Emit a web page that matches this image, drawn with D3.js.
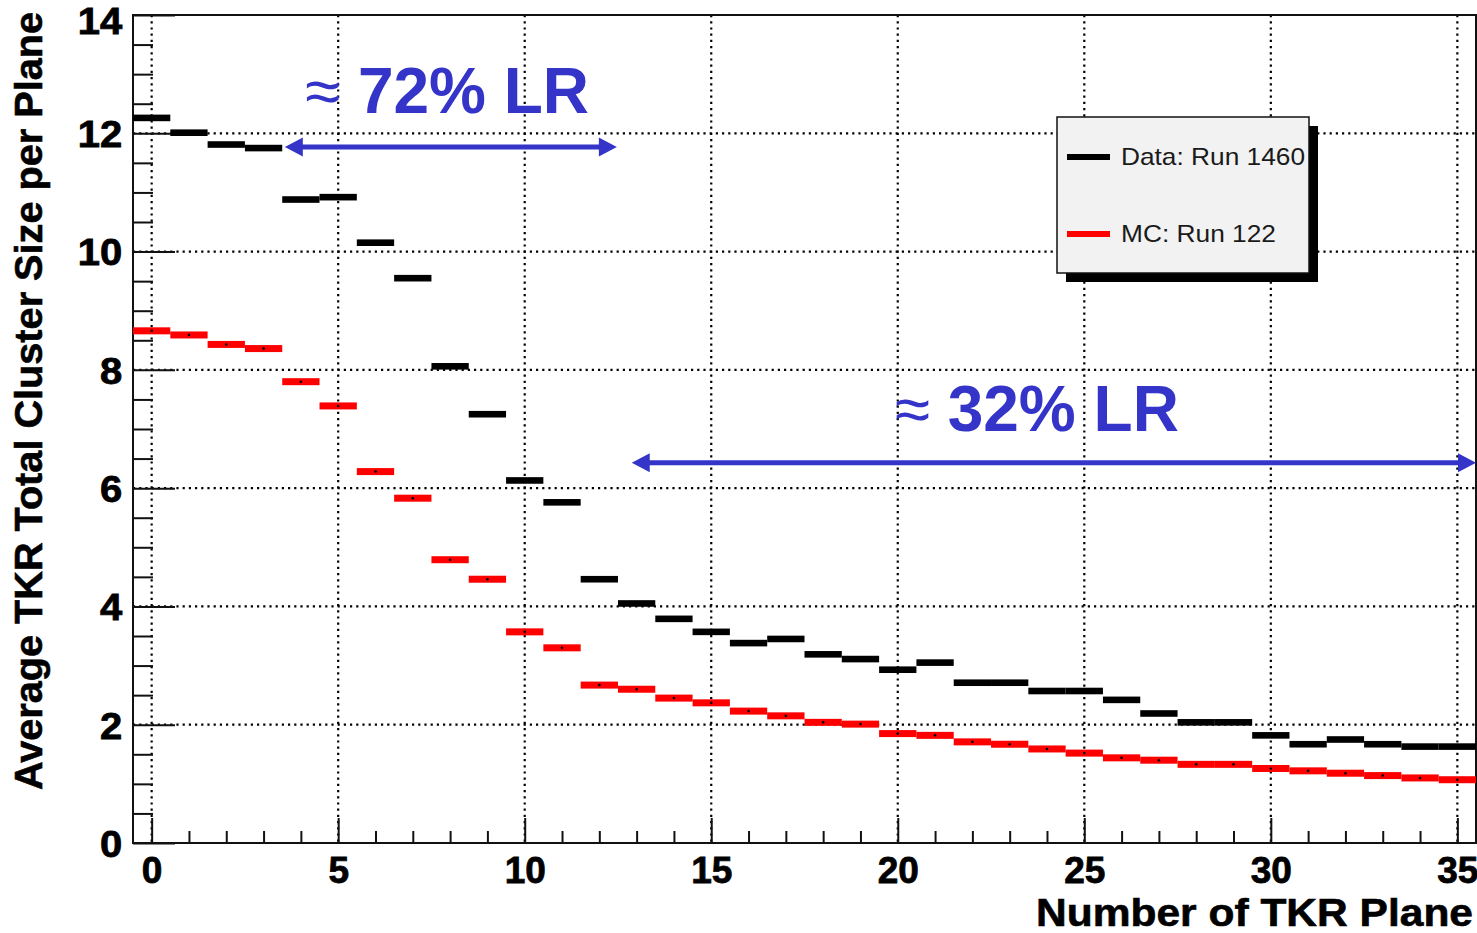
<!DOCTYPE html>
<html>
<head>
<meta charset="utf-8">
<script src="https://cdn.jsdelivr.net/npm/d3@7/dist/d3.min.js"></script>
<style>
  html, body { margin: 0; padding: 0; background: #fff; }
  svg { display: block; }
  text { font-family: "Liberation Sans", Arial, Helvetica, sans-serif; }
</style>
</head>
<body>
<svg id="chart" width="1477" height="933"></svg>
<script>
// ---- data ----
const planes = [0,1,2,3,4,5,6,7,8,9,10,11,12,13,14,15,16,17,18,19,20,21,22,23,24,25,26,27,28,29,30,31,32,33,34,35];
const dataRun1460 = [12.26,12.01,11.81,11.75,10.88,10.92,10.15,9.55,8.06,7.25,6.13,5.76,4.46,4.05,3.79,3.57,3.38,3.45,3.19,3.11,2.93,3.05,2.71,2.71,2.57,2.57,2.42,2.19,2.04,2.04,1.82,1.67,1.75,1.67,1.63,1.63];
const mcRun122 = [8.66,8.59,8.43,8.36,7.80,7.39,6.28,5.83,4.79,4.46,3.57,3.30,2.67,2.60,2.45,2.37,2.23,2.15,2.04,2.01,1.85,1.82,1.71,1.67,1.59,1.52,1.44,1.40,1.33,1.33,1.26,1.22,1.18,1.14,1.10,1.07];
const seriesNames = ["Data: Run 1460", "MC: Run 122"];
const xMajorTicks = [0,5,10,15,20,25,30,35];
const yMajorTicks = [0,2,4,6,8,10,12,14];
const xTitle = "Number of TKR Plane";
const yTitle = "Average TKR Total Cluster Size per Plane";
// annotations (data coordinates)
const annotLabels = ["72% LR", "32% LR"];
const annotTextX = [4.11, 19.92];
const annotTextY = [12.34, 6.97];
const annotArrowX1 = [3.57, 12.87];
const annotArrowX2 = [12.47, 35.5];
const annotArrowY = [11.77, 6.43];

// ---- layout ----
const svg = d3.select("#chart");
const L = 133, R = 1476, T = 15, B = 843;
const x = d3.scaleLinear().domain([-0.5, 35.5]).range([L, R]);
const y = d3.scaleLinear().domain([0, 14]).range([B, T]);
const blue = "#3434c8";

// gridlines
const grid = svg.append("g");
grid.selectAll("line.gx").data(xMajorTicks).join("line")
  .attr("x1", d => x(d)).attr("x2", d => x(d))
  .attr("y1", T).attr("y2", B)
  .attr("stroke", "#000").attr("stroke-width", 2.2).attr("stroke-dasharray", "2.2,4");
grid.selectAll("line.gy").data(yMajorTicks.filter(d => d > 0 && d < 14)).join("line")
  .attr("x1", L).attr("x2", R)
  .attr("y1", d => y(d)).attr("y2", d => y(d))
  .attr("stroke", "#000").attr("stroke-width", 2.2).attr("stroke-dasharray", "2.2,4");

// axes
const fmt = d3.format("d");
const yMinor = d3.range(0, 14.01, 0.5).filter(v => v % 2 !== 0);
const xMinor = planes.filter(v => v % 5 !== 0);

const gy = svg.append("g").attr("transform", `translate(${L},0)`)
  .call(d3.axisLeft(y).tickValues(yMajorTicks).tickSize(-42).tickPadding(10).tickFormat(fmt));
const gyMinor = svg.append("g").attr("transform", `translate(${L},0)`)
  .call(d3.axisLeft(y).tickValues(yMinor).tickSize(-20).tickFormat(""));
const gx = svg.append("g").attr("transform", `translate(0,${B})`)
  .call(d3.axisBottom(x).tickValues(xMajorTicks).tickSize(-25).tickPadding(14).tickFormat(fmt));
const gxMinor = svg.append("g").attr("transform", `translate(0,${B})`)
  .call(d3.axisBottom(x).tickValues(xMinor).tickSize(-12).tickFormat(""));

[gy, gyMinor, gx, gxMinor].forEach(g => {
  g.select(".domain").remove();
  g.selectAll(".tick line").attr("stroke", "#111").attr("stroke-width", 2);
  g.selectAll(".tick text").attr("fill", "#000").attr("font-size", 37).attr("font-weight", "bold")
    .attr("stroke", "#000").attr("stroke-width", 0.8)
    .style("font-family", "'Liberation Sans', Arial, sans-serif");
});
gy.selectAll(".tick text").attr("dy", "0.36em").attr("transform", "scale(1.08,1)");
gy.selectAll(".tick").filter(d => d === 14).select("text").attr("dy", "0.5em");

// frame
svg.append("rect").attr("x", L).attr("y", T).attr("width", R - L).attr("height", B - T)
  .attr("fill", "none").attr("stroke", "#111").attr("stroke-width", 2);

// bars
const bw = x(1) - x(0);
const mcG = svg.append("g");
mcG.selectAll("rect").data(planes).join("rect")
  .attr("x", d => x(d - 0.5)).attr("width", bw)
  .attr("y", (d, i) => y(mcRun122[i]) - 3.5).attr("height", 7)
  .attr("fill", "#ff0000");
mcG.selectAll("circle").data(planes).join("circle")
  .attr("cx", d => x(d)).attr("cy", (d, i) => y(mcRun122[i])).attr("r", 1.3).attr("fill", "#000");

const dataG = svg.append("g");
dataG.selectAll("rect").data(planes).join("rect")
  .attr("x", d => x(d - 0.5)).attr("width", bw)
  .attr("y", (d, i) => y(dataRun1460[i]) - 3.3).attr("height", 6.6)
  .attr("fill", "#000");

// axis titles
svg.append("text").attr("x", 1473).attr("y", 926).attr("text-anchor", "end")
  .attr("font-size", 39).attr("font-weight", "bold").attr("fill", "#000")
  .attr("stroke", "#000").attr("stroke-width", 0.6)
  .attr("textLength", 437).attr("lengthAdjust", "spacingAndGlyphs")
  .text(xTitle);
svg.append("text").attr("transform", "translate(42,401) rotate(-90)").attr("text-anchor", "middle")
  .attr("font-size", 39.5).attr("font-weight", "bold").attr("fill", "#000")
  .attr("stroke", "#000").attr("stroke-width", 0.6)
  .attr("textLength", 778).attr("lengthAdjust", "spacingAndGlyphs")
  .text(yTitle);

// legend
const lg = svg.append("g");
lg.append("rect").attr("x", 1066).attr("y", 126).attr("width", 252).attr("height", 156).attr("fill", "#000");
lg.append("rect").attr("x", 1057).attr("y", 117).attr("width", 252).attr("height", 156)
  .attr("fill", "#f2f2f2").attr("stroke", "#111").attr("stroke-width", 1.5);
const legColors = ["#000", "#ff0000"];
const legY = [157, 234];
seriesNames.forEach((name, i) => {
  lg.append("line").attr("x1", 1067).attr("x2", 1110).attr("y1", legY[i]).attr("y2", legY[i])
    .attr("stroke", legColors[i]).attr("stroke-width", 6);
  lg.append("text").attr("x", 1121).attr("y", legY[i] + 8)
    .attr("font-size", 24).attr("fill", "#1a1a1a")
    .attr("textLength", i === 0 ? 184 : 155).attr("lengthAdjust", "spacingAndGlyphs")
    .text(name);
});

// annotations
const ag = svg.append("g");
annotLabels.forEach((lab, i) => {
  const t = ag.append("text").attr("x", x(annotTextX[i])).attr("y", y(annotTextY[i]))
    .attr("font-size", 64).attr("fill", blue);
  t.append("tspan").attr("font-weight", "normal").text("\u2248");
  t.append("tspan").attr("font-weight", "bold").text(" " + lab);
  const x1 = x(annotArrowX1[i]), x2 = x(annotArrowX2[i]), yy = y(annotArrowY[i]);
  const hl = 18, hh = 9.5;
  ag.append("line").attr("x1", x1 + hl - 2).attr("x2", x2 - hl + 2).attr("y1", yy).attr("y2", yy)
    .attr("stroke", blue).attr("stroke-width", 5);
  ag.append("path").attr("d", `M${x1},${yy} L${x1 + hl},${yy - hh} L${x1 + hl},${yy + hh} Z`).attr("fill", blue);
  ag.append("path").attr("d", `M${x2},${yy} L${x2 - hl},${yy - hh} L${x2 - hl},${yy + hh} Z`).attr("fill", blue);
});
</script>
</body>
</html>
